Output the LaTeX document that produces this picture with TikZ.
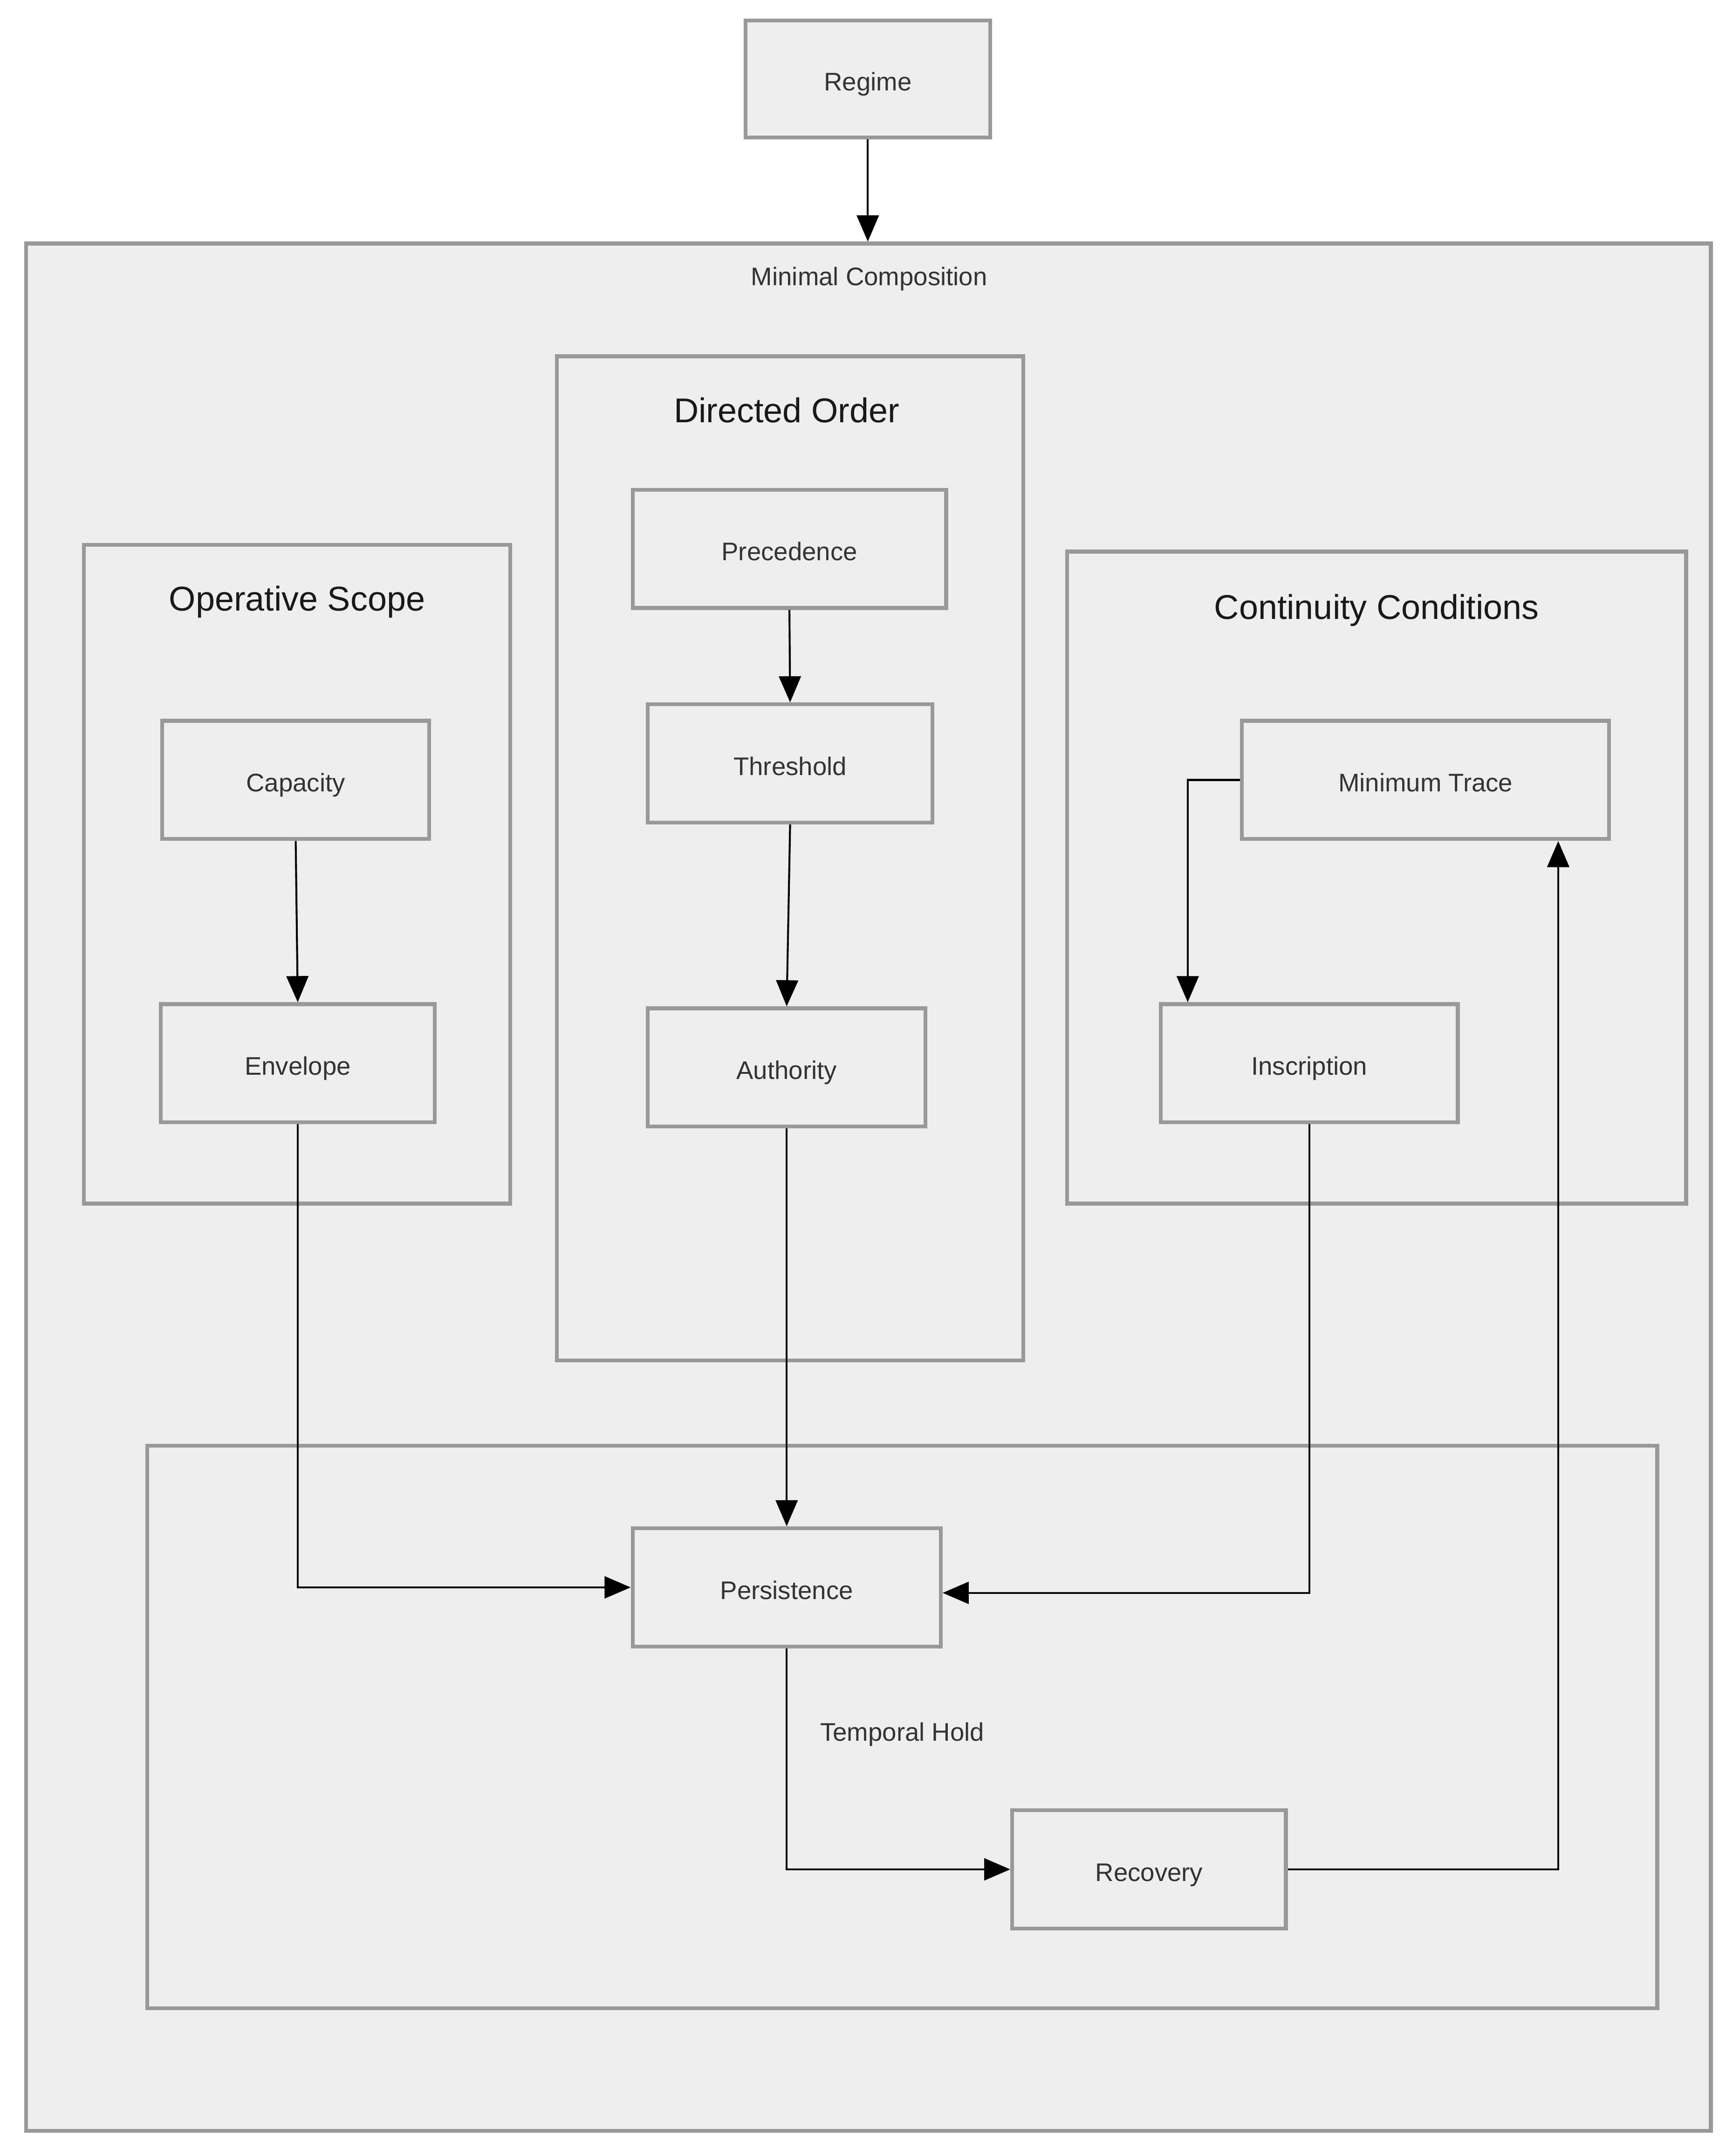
\documentclass[tikz,border=0pt]{standalone}
\usepackage{fontspec}
\setmainfont{Liberation Sans}
\usetikzlibrary{arrows.meta}
\definecolor{boxfill}{HTML}{EEEEEE}
\definecolor{boxline}{HTML}{999999}
\definecolor{inktext}{HTML}{333333}

\begin{document}
\begin{tikzpicture}
  [x=1pt, y=-1pt,
   every node/.style={font=\fontsize{18.5}{22}\selectfont, text=inktext, inner sep=0pt,
                      text height=17pt, text depth=0pt},
   block/.style={draw=boxline, fill=boxfill, line width=2.8pt, rectangle},
   group/.style={draw=boxline, fill=boxfill, line width=2.8pt, rectangle},
   dims/.style 2 args={minimum width=#1pt, minimum height=#2pt},
   grouptitle/.style={font=\fontsize{25}{30}\selectfont, text=black!90,
                      text height=18pt, text depth=0pt},
   link/.style={-{Triangle[length=19pt,width=16pt]}, line width=1.4pt, black}]
  \useasboundingbox (0,0) rectangle (1255,1567.4);
  % containers
  \node[group, dims={1225}{1372}] (minimal) at (631.5,863) {};
  \node (minimallabel) at (632,199) {Minimal Composition};
  \node[group, dims={310}{479}] (operative) at (216,635.5) {};
  \node[grouptitle] (operativetitle) at (216,435) {Operative Scope};
  \node[group, dims={339}{730}] (directed) at (574.5,624) {};
  \node[grouptitle] (directedtitle) at (572,298) {Directed Order};
  \node[group, dims={450}{474}] (continuity) at (1001,638) {};
  \node[grouptitle] (continuitytitle) at (1001,441) {Continuity Conditions};
  \node[group, dims={1098}{409}] (holding) at (656,1255.5) {};
  % blocks
  \node[block, dims={178}{85}] (regime) at (631,57.5) {Regime};
  \node[block, dims={194}{86}] (capacity) at (215,567) {Capacity};
  \node[block, dims={199}{86}] (envelope) at (216.5,773) {Envelope};
  \node[block, dims={228}{86}] (precedence) at (574,399) {Precedence};
  \node[block, dims={207}{86}] (threshold) at (574.5,555) {Threshold};
  \node[block, dims={202}{86}] (authority) at (572,776) {Authority};
  \node[block, dims={267}{86}] (mintrace) at (1036.5,567) {Minimum Trace};
  \node[block, dims={216}{86}] (inscription) at (952,773) {Inscription};
  \node[block, dims={224}{86}] (persistence) at (572,1154) {Persistence};
  \node[block, dims={199}{86}] (recovery) at (835.5,1359) {Recovery};
  \node (holdlabel) at (656,1257) {Temporal Hold};
  % connectors
  \draw[link] (regime.south) -- (regime.south |- minimal.north);
  \draw[link] (capacity.south) -- (envelope.north);
  \draw[link] (precedence.south) -- (threshold.north);
  \draw[link] (threshold.south) -- (authority.north);
  \draw[link] (mintrace.west) -| ([xshift=21pt]inscription.north west);
  \draw[link] (envelope.south) |- (persistence.west);
  \draw[link] (authority.south) -- (persistence.north);
  \draw[link] (inscription.south) |- ([yshift=-4pt]persistence.east);
  \draw[link] (persistence.south) |- (recovery.west);
  \draw[link] (recovery.east) -| ([xshift=96.5pt]mintrace.south);
\end{tikzpicture}
\end{document}
